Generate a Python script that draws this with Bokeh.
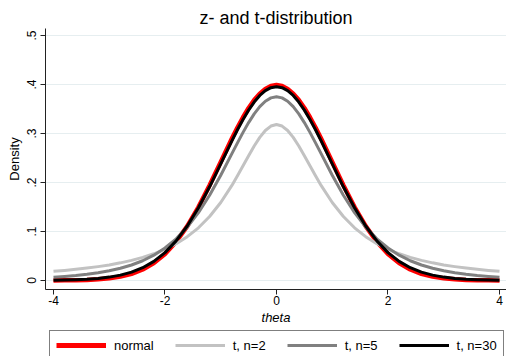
from bokeh.plotting import figure
from bokeh.layouts import column
from bokeh.models import Legend, LegendItem, FixedTicker, Range1d, ColumnDataSource
from bokeh.embed import file_html
from bokeh.resources import INLINE

# ---- data ----
theta = [-4.0, -3.8, -3.6, -3.4, -3.2, -3.0, -2.8, -2.6, -2.4, -2.2, -2.0,
         -1.8, -1.6, -1.4, -1.2, -1.0, -0.8, -0.7, -0.6, -0.5, -0.4, -0.3, -0.2, -0.1, 0.0,
         0.1, 0.2, 0.3, 0.4, 0.5, 0.6, 0.7, 0.8, 1.0, 1.2, 1.4, 1.6, 1.8, 2.0,
         2.2, 2.4, 2.6, 2.8, 3.0, 3.2, 3.4, 3.6, 3.8, 4.0]

normal = [0.0001, 0.0003, 0.0006, 0.0012, 0.0024, 0.0044, 0.0079, 0.0136, 0.0224, 0.0355, 0.0540,
          0.0790, 0.1109, 0.1497, 0.1942, 0.2420, 0.2897, 0.3123, 0.3332, 0.3521, 0.3683, 0.3814, 0.3910, 0.3970, 0.3989,
          0.3970, 0.3910, 0.3814, 0.3683, 0.3521, 0.3332, 0.3123, 0.2897, 0.2420, 0.1942, 0.1497, 0.1109, 0.0790, 0.0540,
          0.0355, 0.0224, 0.0136, 0.0079, 0.0044, 0.0024, 0.0012, 0.0006, 0.0003, 0.0001]

t_n2 = [0.0187, 0.0206, 0.0228, 0.0253, 0.0283, 0.0318, 0.0360, 0.0410, 0.0471, 0.0545, 0.0637,
        0.0751, 0.0894, 0.1075, 0.1305, 0.1592, 0.1941, 0.2136, 0.2341, 0.2546, 0.2744, 0.2920, 0.3061, 0.3152, 0.3183,
        0.3152, 0.3061, 0.2920, 0.2744, 0.2546, 0.2341, 0.2136, 0.1941, 0.1592, 0.1305, 0.1075, 0.0894, 0.0751, 0.0637,
        0.0545, 0.0471, 0.0410, 0.0360, 0.0318, 0.0283, 0.0253, 0.0228, 0.0206, 0.0187]

t_n5 = [0.0067, 0.0082, 0.0101, 0.0126, 0.0157, 0.0197, 0.0249, 0.0316, 0.0403, 0.0517, 0.0663,
        0.0851, 0.1089, 0.1384, 0.1739, 0.2147, 0.2588, 0.2809, 0.3023, 0.3223, 0.3400, 0.3547, 0.3658, 0.3727, 0.3750,
        0.3727, 0.3658, 0.3547, 0.3400, 0.3223, 0.3023, 0.2809, 0.2588, 0.2147, 0.1739, 0.1384, 0.1089, 0.0851, 0.0663,
        0.0517, 0.0403, 0.0316, 0.0249, 0.0197, 0.0157, 0.0126, 0.0101, 0.0082, 0.0067]

t_n30 = [0.0005, 0.0009, 0.0016, 0.0026, 0.0042, 0.0069, 0.0109, 0.0171, 0.0261, 0.0391, 0.0569,
         0.0808, 0.1112, 0.1483, 0.1912, 0.2379, 0.2851, 0.3076, 0.3287, 0.3477, 0.3642, 0.3776, 0.3874, 0.3935, 0.3955,
         0.3935, 0.3874, 0.3776, 0.3642, 0.3477, 0.3287, 0.3076, 0.2851, 0.2379, 0.1912, 0.1483, 0.1112, 0.0808, 0.0569,
         0.0391, 0.0261, 0.0171, 0.0109, 0.0069, 0.0042, 0.0026, 0.0016, 0.0009, 0.0005]

series_labels = ["normal", "t, n=2", "t, n=5", "t, n=30"]
x_ticks = [-4, -2, 0, 2, 4]
x_tick_labels = ["-4", "-2", "0", "2", "4"]
y_ticks = [0, 0.1, 0.2, 0.3, 0.4, 0.5]
y_tick_labels = ["0", ".1", ".2", ".3", ".4", ".5"]

FONT = "Liberation Sans"
COLORS = ["#ff0000", "#c2c2c2", "#808080", "#000000"]
WIDTHS = [4.5, 3, 3, 3]
LEG_WIDTHS = [5, 3, 3, 3]

src = ColumnDataSource(dict(theta=theta, normal=normal, t2=t_n2, t5=t_n5, t30=t_n30))
cols = ["normal", "t2", "t5", "t30"]

p = figure(width=506, height=328, output_backend="svg", toolbar_location=None,
           x_range=Range1d(-4.1435, 4.1256), y_range=Range1d(-0.0184, 0.5143),
           min_border_left=45, min_border_right=0, min_border_top=28, min_border_bottom=39)

p.outline_line_color = None
p.background_fill_color = "white"
p.border_fill_color = "white"

# title
p.title.text = "z- and t-distribution"
p.title.align = "center"
p.title.text_font = FONT
p.title.text_font_size = "18px"
p.title.text_font_style = "normal"
p.title.text_color = "black"
p.title.standoff = 1

# grids
p.xgrid.grid_line_color = None
p.ygrid.grid_line_color = "#e6eef0"
p.ygrid.grid_line_width = 1

# axes
xa = p.xaxis[0]
ya = p.yaxis[0]
xa.ticker = FixedTicker(ticks=x_ticks)
ya.ticker = FixedTicker(ticks=y_ticks)
xa.major_label_overrides = {t: l for t, l in zip(x_ticks, x_tick_labels)}
ya.major_label_overrides = {t: l for t, l in zip(y_ticks, y_tick_labels)}
for ax in (xa, ya):
    ax.axis_line_color = "#222222"
    ax.major_tick_line_color = "#222222"
    ax.major_tick_out = 5
    ax.major_tick_in = 0
    ax.minor_tick_line_color = None
    ax.major_label_text_font = FONT
    ax.major_label_text_font_size = "12px"
    ax.major_label_text_color = "black"
    ax.axis_label_text_font = FONT
    ax.axis_label_text_font_size = "13px"
    ax.axis_label_text_color = "black"

xa.axis_label = "theta"
xa.axis_label_text_font_style = "italic"
xa.major_label_standoff = 1
xa.axis_label_standoff = 2

ya.axis_label = "Density"
ya.axis_label_text_font_style = "normal"
ya.major_label_orientation = "vertical"
ya.major_label_standoff = 4
ya.axis_label_standoff = 3

# lines
for c, col, w in zip(cols, COLORS, WIDTHS):
    p.line("theta", c, source=src, line_color=col, line_width=w, line_join="round")

# ---- legend strip below the plot (its frame is aligned with the plot's frame) ----
lg = figure(width=506, height=28, output_backend="svg", toolbar_location=None,
            x_range=Range1d(-4.1435, 4.1256), y_range=Range1d(10, 11),
            x_axis_location=None, y_axis_location=None,
            min_border_left=45, min_border_right=0,
            min_border_top=0, min_border_bottom=0)
lg.outline_line_color = None
lg.xgrid.visible = False
lg.ygrid.visible = False
lg.background_fill_color = "white"
lg.border_fill_color = "white"

items = []
for lab, c, col, w in zip(series_labels, cols, COLORS, LEG_WIDTHS):
    # same data as the plot, but outside this strip's y-range: only the legend swatch shows
    r = lg.line("theta", c, source=src, line_color=col, line_width=w)
    items.append(LegendItem(label=lab, renderers=[r]))

legend = Legend(
    items=items, orientation="horizontal", location=(4, -4),
    glyph_width=50, glyph_height=16, label_standoff=8, spacing=21,
    padding=6, margin=0,
    border_line_color="black", border_line_width=1,
    background_fill_color="white", background_fill_alpha=1,
    label_text_font=FONT, label_text_font_size="13px", label_text_color="black",
)
lg.add_layout(legend, "center")

layout = column(p, lg, spacing=0)
open("out.html", "w").write(file_html(layout, INLINE))
